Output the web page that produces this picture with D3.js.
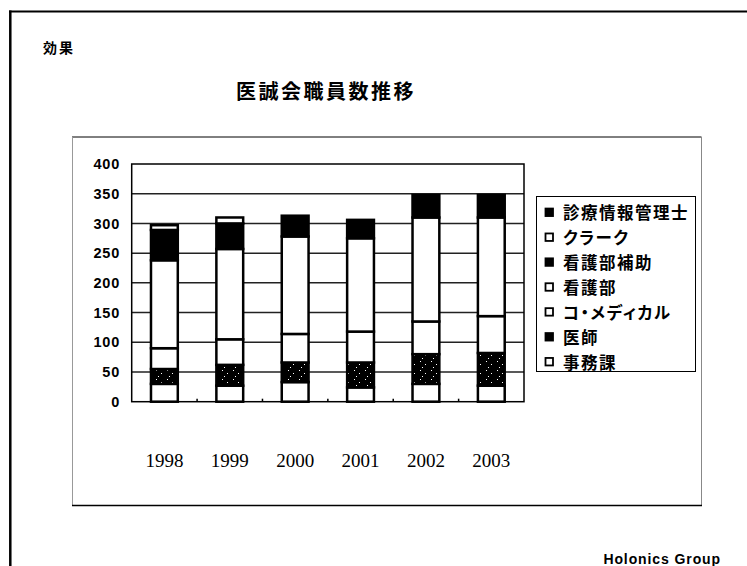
<!DOCTYPE html>
<html>
<head>
<meta charset="utf-8">
<script src="https://cdn.jsdelivr.net/npm/d3@7"></script>
<style>
  html, body { margin: 0; padding: 0; background: #fff; }
  svg { display: block; }
  .jp { font-family: "Noto Sans CJK JP", sans-serif; font-weight: 700; }
  .legend text { font-feature-settings: "palt" 1; }
</style>
</head>
<body>
<svg id="chart" width="747" height="566"></svg>
<script>
// Staff headcount per fiscal year, stacked by department
const years = ["1998", "1999", "2000", "2001", "2002", "2003"];
const seriesNames = ["事務課", "医師", "コ・メディカル", "看護部", "看護部補助", "クラーク", "診療情報管理士"];
const jimuka      = [30, 27, 33, 24, 30, 27];     // 事務課
const ishi        = [25, 35, 33, 42, 50, 55];     // 医師
const comedical   = [35, 43, 48, 52, 55, 62];     // コ・メディカル
const kango       = [148, 152, 164, 157, 175, 166]; // 看護部
const kangoHojo   = [51, 43, 35, 31, 38, 38];     // 看護部補助
const clerk       = [8, 10, 0, 0, 0, 0];          // クラーク
const shinryo     = [0, 0, 0, 0, 0, 0];           // 診療情報管理士
const yTicks = [0, 50, 100, 150, 200, 250, 300, 350, 400];

const seriesValues = [jimuka, ishi, comedical, kango, kangoHojo, clerk, shinryo];
const darkSeries = new Set(["医師", "看護部補助", "診療情報管理士"]);

const rows = years.map((y, i) => {
  const r = { year: y };
  seriesNames.forEach((s, k) => { r[s] = seriesValues[k][i]; });
  return r;
});

const svg = d3.select("#chart");
svg.append("rect").attr("width", 747).attr("height", 566).attr("fill", "#fff");

// speckled fill used for the doctors' segment
const defs = svg.append("defs");
const pat = defs.append("pattern").attr("id", "speckle")
  .attr("patternUnits", "userSpaceOnUse").attr("width", 11).attr("height", 9);
pat.append("rect").attr("width", 11).attr("height", 9).attr("fill", "#000");
[[2, 1], [7, 4], [4, 7]].forEach(([px, py]) =>
  pat.append("rect").attr("x", px).attr("y", py).attr("width", 1).attr("height", 1).attr("fill", "#fff"));

// slide frame
svg.append("line").attr("x1", 9).attr("x2", 747).attr("y1", 11.5).attr("y2", 11.5)
  .attr("stroke", "#000").attr("stroke-width", 2);
svg.append("line").attr("x1", 10.3).attr("x2", 10.3).attr("y1", 10.5).attr("y2", 566)
  .attr("stroke", "#000").attr("stroke-width", 2.5);

svg.append("text").attr("class", "jp").attr("x", 43).attr("y", 47)
  .attr("dominant-baseline", "central").attr("font-size", 14).attr("letter-spacing", 2)
  .text("効果");

// chart area box
const box = svg.append("g");
box.append("line").attr("x1", 72).attr("x2", 701.5).attr("y1", 137).attr("y2", 137).attr("stroke", "#000").attr("stroke-width", 1);
box.append("line").attr("x1", 72.5).attr("x2", 72.5).attr("y1", 137).attr("y2", 505.5).attr("stroke", "#999").attr("stroke-width", 1);
box.append("line").attr("x1", 701.5).attr("x2", 701.5).attr("y1", 137).attr("y2", 505.5).attr("stroke", "#888").attr("stroke-width", 1);
box.append("line").attr("x1", 72).attr("x2", 702).attr("y1", 505.5).attr("y2", 505.5).attr("stroke", "#000").attr("stroke-width", 1.5);

svg.append("text").attr("class", "jp").attr("x", 326).attr("y", 90)
  .attr("text-anchor", "middle").attr("dominant-baseline", "central")
  .attr("font-size", 20).attr("letter-spacing", 2.5)
  .text("医誠会職員数推移");

// scales
const plot = { left: 131.7, right: 524, top: 164, bottom: 401.7 };
const x = d3.scaleBand().domain(years).range([plot.left, plot.right]).padding(0);
const y = d3.scaleLinear().domain([0, 400]).range([plot.bottom, plot.top]);
const barW = x.bandwidth() * 0.41;

// gridlines
svg.append("g").selectAll("line").data(yTicks.filter(t => t > 0 && t < 400)).join("line")
  .attr("x1", plot.left).attr("x2", plot.right)
  .attr("y1", d => y(d)).attr("y2", d => y(d))
  .attr("stroke", "#222").attr("stroke-width", 1.5);

// stacked bars
const stack = d3.stack().keys(seriesNames)(rows);
const barG = svg.append("g");
stack.forEach(layer => {
  const name = layer.key;
  const fill = name === "医師" ? "url(#speckle)" : (darkSeries.has(name) ? "#000" : "#fff");
  barG.append("g").selectAll("rect").data(layer.filter(d => d[1] - d[0] > 0)).join("rect")
    .attr("x", d => x(d.data.year) + (x.bandwidth() - barW) / 2)
    .attr("width", barW)
    .attr("y", d => y(d[1]))
    .attr("height", d => y(d[0]) - y(d[1]))
    .attr("fill", fill)
    .attr("stroke", "#000").attr("stroke-width", 2.5);
});

// plot frame
svg.append("rect").attr("x", plot.left).attr("y", plot.top)
  .attr("width", plot.right - plot.left).attr("height", plot.bottom - plot.top)
  .attr("fill", "none").attr("stroke", "#000").attr("stroke-width", 1.5);

// small inner ticks between categories
svg.append("g").selectAll("line").data(years.slice(1)).join("line")
  .attr("x1", d => x(d)).attr("x2", d => x(d))
  .attr("y1", plot.bottom).attr("y2", plot.bottom - 3)
  .attr("stroke", "#000").attr("stroke-width", 1.5);

// y axis labels
const yAxis = d3.axisLeft(y).tickValues(yTicks).tickSize(0).tickPadding(11.7);
const yg = svg.append("g").attr("transform", `translate(${plot.left},0)`).call(yAxis);
yg.select(".domain").remove();
yg.selectAll("text")
  .attr("font-family", "'Liberation Sans', Arial, sans-serif")
  .attr("font-weight", 700).attr("font-size", 14.5).attr("letter-spacing", 0.8)
  .attr("fill", "#000");

// category labels
const xAxis = d3.axisBottom(x).tickSize(0).tickPadding(0);
const xg = svg.append("g").attr("transform", `translate(0,${plot.bottom})`).call(xAxis);
xg.select(".domain").remove();
xg.selectAll("text")
  .attr("y", 65).attr("dy", 0)
  .attr("font-family", "'Liberation Serif', 'Times New Roman', serif")
  .attr("font-size", 19).attr("fill", "#000");

// legend
const legend = svg.append("g").attr("class", "legend");
legend.append("rect").attr("x", 536.5).attr("y", 196.5).attr("width", 159).attr("height", 175)
  .attr("fill", "#fff").attr("stroke", "#000").attr("stroke-width", 1);
const legendItems = seriesNames.slice().reverse();
const li = legend.selectAll("g.item").data(legendItems).join("g").attr("class", "item")
  .attr("transform", (d, i) => `translate(545, ${212.3 + i * 24.9})`);
li.append("rect").attr("x", 0.5).attr("y", -3.75).attr("width", 7.5).attr("height", 7.5)
  .attr("fill", d => darkSeries.has(d) ? "#000" : "#fff")
  .attr("stroke", "#000").attr("stroke-width", 1.8);
li.append("text").attr("class", "jp").attr("x", 18).attr("y", 0)
  .attr("dominant-baseline", "central").attr("font-size", 16.5).attr("letter-spacing", 1.5)
  .text(d => d);

svg.append("text").attr("x", 721).attr("y", 564)
  .attr("text-anchor", "end")
  .attr("font-family", "'Liberation Sans', Arial, sans-serif").attr("font-weight", 700)
  .attr("font-size", 14).attr("letter-spacing", 0.9)
  .text("Holonics  Group");
</script>
</body>
</html>
